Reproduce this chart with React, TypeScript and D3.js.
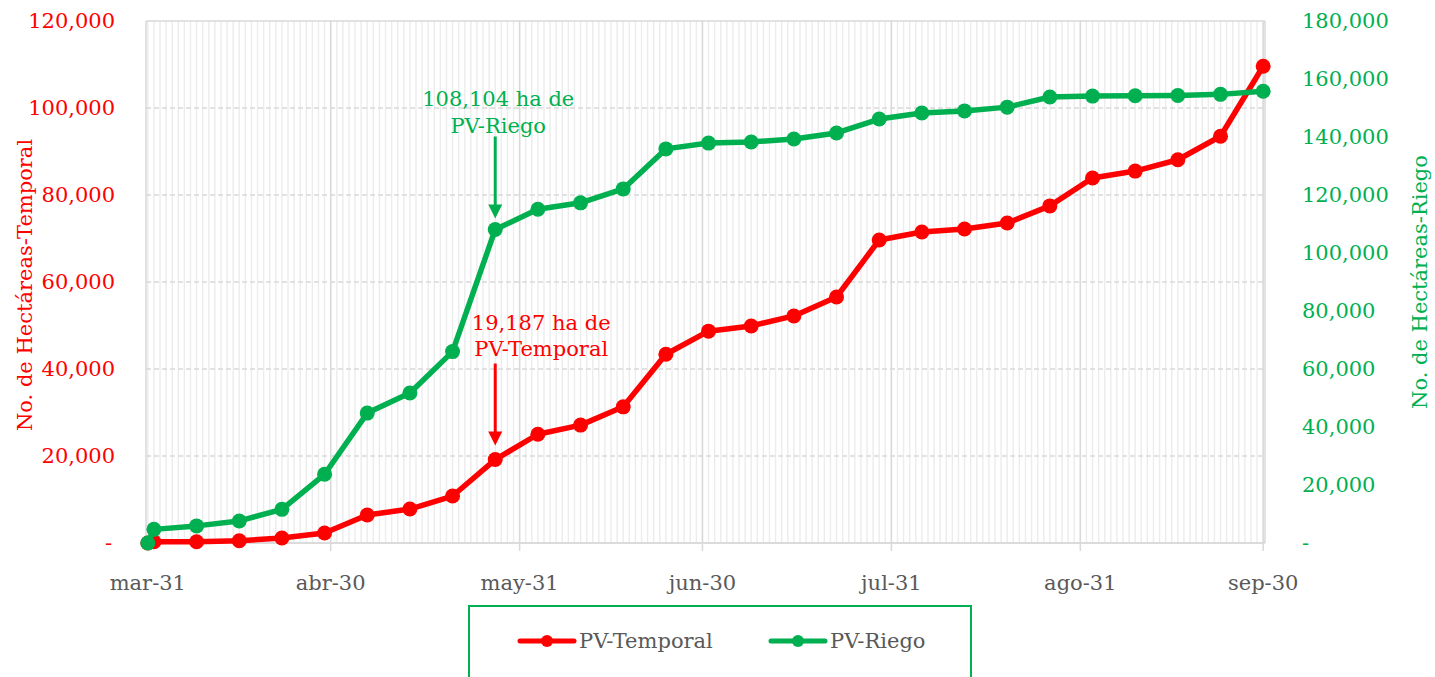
import React from 'react'
import * as d3 from 'd3'

const dates = [
  '2021-03-31', '2021-04-01', '2021-04-08', '2021-04-15', '2021-04-22', '2021-04-29',
  '2021-05-06', '2021-05-13', '2021-05-20', '2021-05-27', '2021-06-03', '2021-06-10',
  '2021-06-17', '2021-06-24', '2021-07-01', '2021-07-08', '2021-07-15', '2021-07-22',
  '2021-07-29', '2021-08-05', '2021-08-12', '2021-08-19', '2021-08-26', '2021-09-02',
  '2021-09-09', '2021-09-16', '2021-09-23', '2021-09-30'
]

const temporal = [
  0, 300, 300, 530, 1150, 2300, 6450, 7800, 10800, 19187, 25000, 27100, 31300, 43400,
  48700, 49900, 52200, 56550, 69650, 71500, 72200, 73550, 77500, 83900, 85500, 88100,
  93500, 109600
]

const riego = [
  0, 4700, 5900, 7600, 11600, 23700, 44800, 51700, 66000, 108104, 115100, 117300, 122100,
  135900, 137900, 138300, 139300, 141400, 146200, 148300, 149000, 150300, 153800, 154100,
  154200, 154300, 154700, 155800
]

const monthTicks = ['2021-03-31', '2021-04-30', '2021-05-31', '2021-06-30', '2021-07-31', '2021-08-31', '2021-09-30']
const monthLabels = ['mar-31', 'abr-30', 'may-31', 'jun-30', 'jul-31', 'ago-31', 'sep-30']
const leftTicks = [0, 20000, 40000, 60000, 80000, 100000, 120000]
const rightTicks = [0, 20000, 40000, 60000, 80000, 100000, 120000, 140000, 160000, 180000]

const RED = '#FF0000'
const GREEN = '#00B050'
const FONT = 'DejaVu Serif'

const parse = d3.timeParse('%Y-%m-%d')
const fmt = d3.format(',')

export default function App() {
  const W = 1435
  const H = 677
  const left = 146
  const right = 1265
  const top = 21
  const bottom = 543

  const dayMs = 86400000
  const x = d3.scaleTime()
    .domain([new Date(parse(dates[0])!.getTime() - 0.3 * dayMs), new Date(parse('2021-09-30')!.getTime() + 0.3 * dayMs)])
    .range([left, right])
  const yL = d3.scaleLinear().domain([0, 120000]).range([bottom, top])
  const yR = d3.scaleLinear().domain([0, 180000]).range([bottom, top])

  const days = d3.timeDay.range(parse('2021-03-31')!, new Date(parse('2021-09-30')!.getTime() + dayMs))

  const tData = dates.map((d, i) => ({ d: parse(d)!, v: temporal[i] }))
  const rData = dates.map((d, i) => ({ d: parse(d)!, v: riego[i] }))

  const lineL = d3.line<{ d: Date; v: number }>().x(p => x(p.d)).y(p => yL(p.v))
  const lineR = d3.line<{ d: Date; v: number }>().x(p => x(p.d)).y(p => yR(p.v))

  const annDate = parse('2021-05-27')!
  const ax = x(annDate)
  const gTip = yR(108104) - 11
  const rTip = yL(19187) - 14

  const arrow = (tip: number, color: string) => (
    <g>
      <line x1={ax} x2={ax} y1={tip - 82} y2={tip - 12} stroke={color} strokeWidth={3} />
      <path d={`M${ax - 7},${tip - 14} L${ax + 7},${tip - 14} L${ax},${tip} Z`} fill={color} />
    </g>
  )

  return (
    <svg width={W} height={H} style={{ position: 'absolute', left: 0, top: 0, background: '#fff' }} fontFamily={FONT}>
      {/* daily gridlines */}
      {days.map((d, i) => (
        <line key={'d' + i} x1={x(d)} x2={x(d)} y1={top} y2={bottom} stroke="#ececec" strokeWidth={1.4} />
      ))}
      {/* horizontal gridlines */}
      {leftTicks.map(t => (
        <line key={'h' + t} x1={left} x2={right} y1={yL(t)} y2={yL(t)} stroke="#d9d9d9" strokeWidth={1.5}
          strokeDasharray={t === 120000 || t === 0 ? undefined : '5,3'} />
      ))}
      {/* month gridlines */}
      {monthTicks.slice(1).map(m => (
        <line key={'m' + m} x1={x(parse(m)!)} x2={x(parse(m)!)} y1={top} y2={bottom + 8} stroke="#d9d9d9" strokeWidth={1.5} />
      ))}
      <line x1={left} x2={left} y1={top} y2={bottom} stroke="#d9d9d9" strokeWidth={1.5} />
      <line x1={right} x2={right} y1={top} y2={bottom} stroke="#d9d9d9" strokeWidth={1.5} />
      <line x1={left} x2={right} y1={bottom} y2={bottom} stroke="#d9d9d9" strokeWidth={1.5} />

      {/* x labels */}
      {monthTicks.map((m, i) => (
        <text key={'xl' + m} x={x(parse(m)!)} y={590} textAnchor="middle" fontSize={21} fill="#595959">{monthLabels[i]}</text>
      ))}
      {/* left ticks */}
      {leftTicks.map(t => (
        <text key={'lt' + t} x={t === 0 ? 112 : 115} y={yL(t) + 7} textAnchor="end" fontSize={21} fill={RED}>
          {t === 0 ? '-' : fmt(t)}
        </text>
      ))}
      {/* right ticks */}
      {rightTicks.map(t => (
        <text key={'rt' + t} x={1302} y={yR(t) + 7} textAnchor="start" fontSize={21} fill={GREEN}>
          {t === 0 ? '-' : fmt(t)}
        </text>
      ))}
      <text transform={`translate(32,${(top + bottom) / 2 + 3}) rotate(-90)`} textAnchor="middle" fontSize={21} fill={RED}>
        No. de Hectáreas-Temporal
      </text>
      <text transform={`translate(1427,${(top + bottom) / 2}) rotate(-90)`} textAnchor="middle" fontSize={21} fill={GREEN}>
        No. de Hectáreas-Riego
      </text>

      {/* series */}
      <path d={lineL(tData)!} fill="none" stroke={RED} strokeWidth={5.5} strokeLinejoin="round" />
      {tData.map((p, i) => (
        <circle key={'tc' + i} cx={x(p.d)} cy={yL(p.v)} r={7.5} fill={RED} />
      ))}
      <path d={lineR(rData)!} fill="none" stroke={GREEN} strokeWidth={5.5} strokeLinejoin="round" />
      {rData.map((p, i) => (
        <circle key={'rc' + i} cx={x(p.d)} cy={yR(p.v)} r={7.5} fill={GREEN} />
      ))}

      {/* annotations */}
      <text x={ax + 3} y={106} textAnchor="middle" fontSize={21} fill={GREEN}>
        <tspan x={ax + 3} dy={0}>108,104 ha de</tspan>
        <tspan x={ax + 3} dy={27}>PV-Riego</tspan>
      </text>
      {arrow(gTip, GREEN)}
      <text x={ax + 46} y={330} textAnchor="middle" fontSize={21} fill={RED}>
        <tspan x={ax + 46} dy={0}>19,187 ha de</tspan>
        <tspan x={ax + 46} dy={26}>PV-Temporal</tspan>
      </text>
      {arrow(rTip, RED)}

      {/* legend */}
      <rect x={469} y={606} width={502} height={90} fill="#fff" stroke={GREEN} strokeWidth={2} />
      <line x1={520} x2={574} y1={641} y2={641} stroke={RED} strokeWidth={5} strokeLinecap="round" />
      <circle cx={547} cy={641} r={6} fill={RED} />
      <text x={579} y={648} fontSize={21} fill="#595959">PV-Temporal</text>
      <line x1={771} x2={825} y1={641} y2={641} stroke={GREEN} strokeWidth={5} strokeLinecap="round" />
      <circle cx={798} cy={641} r={6} fill={GREEN} />
      <text x={830} y={648} fontSize={21} fill="#595959">PV-Riego</text>
    </svg>
  )
}
